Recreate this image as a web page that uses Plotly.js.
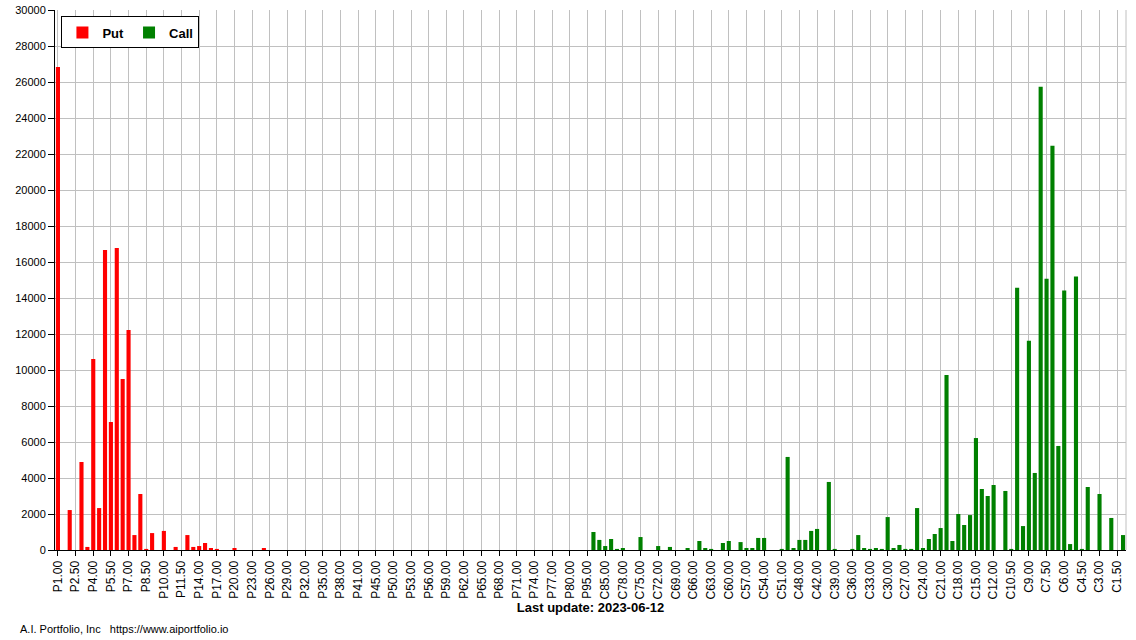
<!DOCTYPE html>
<html>
<head>
<meta charset="utf-8">
<script src="https://cdn.plot.ly/plotly-3.0.1.min.js"></script>
<style>
  html, body { margin: 0; padding: 0; background: #ffffff; }
  #chart { width: 1136px; height: 640px; }
</style>
</head>
<body>
<div id="chart"></div>
<script>
// Strikes (put side ascending; call side shows the same strikes descending)
const putStrikes = [1,1.5,2,2.5,3,3.5,4,4.5,5,5.5,6,6.5,7,7.5,8,8.5,9,9.5,10,10.5,11,11.5,
  12,13,14,15,16,17,18,19,20,21,22,23,24,25,26,27,28,29,30,31,32,33,34,35,36,37,38,39,40,41,42,
  44,45,48,49,
  50,51,52,53,54,55,56,57,58,59,60,61,62,63,64,65,66,67,68,69,70,71,72,73,74,75,76,77,78,79,80,
  85,90,95];
const callStrikes = [95,90,85,80,79,78,77,76,75,74,73,72,71,70,69,68,67,66,65,64,63,62,61,60,59,58,57,56,55,54,53,52,51,50,
  49,48,45,44,
  42,41,40,39,38,37,36,35,34,33,32,31,30,29,28,27,26,25,24,23,22,21,20,19,18,17,16,15,14,13,12,
  11.5,11,10.5,10,9.5,9,8.5,8,7.5,7,6.5,6,5.5,5,4.5,4,3.5,3,2.5,2,1.5,1];

// Open interest values
const putValues = [26830,0,2220,0,4890,170,10610,2330,16670,7110,
  16780,9500,12220,830,3110,60,940,0,1060,0,
  170,0,830,170,220,390,110,60,0,0,
  110,0,0,0,0,110,0,0,0,0,
  0,0,0,0,0,0,0,0,0,0,
  0,0,0,0,0,0,0,0,0,0,
  0,0,0,0,0,0,0,0,0,0,
  0,0,0,0,0,0,0,0,0,0,
  0,0,0,0,0,0,0,0,0,0,
  0];
const callValues = [1000,560,220,610,60,110,0,0,720,0,
  0,220,0,170,0,0,110,0,500,110,
  60,0,390,500,0,440,110,110,670,670,
  0,0,60,5170,110,560,560,1060,1170,0,
  3780,60,0,0,60,830,110,60,110,60,
  1830,110,280,60,60,2330,110,610,890,1220,
  9720,500,2000,1390,1940,6220,3390,3000,3610,0,
  3280,60,14570,1330,11630,4280,25740,15070,22460,5780,
  14410,330,15190,60,3500,0,3110,0,1780,0,830];

const titleText = 'Last update: 2023-06-12';
const footerText = 'A.I. Portfolio, Inc &nbsp; https://www.aiportfolio.io';

const putCats = putStrikes.map(s => 'P' + s.toFixed(2));
const callCats = callStrikes.map(s => 'C' + s.toFixed(2));
const allCats = putCats.concat(callCats);
const tickCats = allCats.filter((c, i) => i % 3 === 0);

const FONT = 'Liberation Sans, Arial, sans-serif';

const traces = [
  { type: 'bar', name: 'Put', x: putCats, y: putValues, marker: { color: '#ff0000' }, hoverinfo: 'x+y' },
  { type: 'bar', name: 'Call', x: callCats, y: callValues, marker: { color: '#008000' }, hoverinfo: 'x+y' }
];

const layout = {
  width: 1136, height: 640,
  margin: { l: 55, r: 10, t: 10, b: 90, pad: 0 },
  paper_bgcolor: '#ffffff', plot_bgcolor: '#ffffff',
  barmode: 'overlay', bargap: 0.3,
  font: { family: FONT, color: '#000000', size: 12 },
  showlegend: true,
  legend: {
    orientation: 'h', x: 0.006, y: 0.988, xanchor: 'left', yanchor: 'top',
    bgcolor: '#ffffff', bordercolor: '#000000', borderwidth: 1,
    font: { family: FONT, size: 13, color: '#000000', weight: 'bold' },
    traceorder: 'normal', itemwidth: 30
  },
  xaxis: {
    type: 'category', categoryorder: 'array', categoryarray: allCats,
    range: [-0.5, allCats.length - 0.5], fixedrange: true,
    tickmode: 'array', tickvals: tickCats, ticktext: tickCats,
    tickangle: -90, tickfont: { family: FONT, size: 12, color: '#000000' },
    ticks: 'outside', ticklen: 5, tickcolor: '#000000',
    showgrid: true, gridcolor: '#c0c0c0', gridwidth: 1,
    showline: true, linecolor: '#000000', linewidth: 1,
    automargin: false,
    title: { text: titleText, font: { family: FONT, size: 13, color: '#000000', weight: 'bold' }, standoff: 4 }
  },
  yaxis: {
    range: [0, 30000], dtick: 2000, tick0: 0, tickformat: 'd', fixedrange: true,
    tickfont: { family: FONT, size: 11, color: '#000000' },
    ticks: 'outside', ticklen: 6, tickcolor: '#000000',
    showgrid: true, gridcolor: '#c0c0c0', gridwidth: 1,
    showline: true, linecolor: '#000000', linewidth: 1,
    zeroline: false, automargin: false
  },
  shapes: [
    { type: 'line', xref: 'paper', yref: 'paper', x0: 1, x1: 1, y0: 0, y1: 1, line: { color: '#c0c0c0', width: 1 } }
  ],
  annotations: [
    { text: footerText, xref: 'paper', yref: 'paper', x: -0.0345, y: -0.146, xanchor: 'left', yanchor: 'middle',
      showarrow: false, font: { family: FONT, size: 11, color: '#000000' } }
  ]
};

Plotly.newPlot('chart', traces, layout, { displayModeBar: false, staticPlot: true });
</script>
</body>
</html>
